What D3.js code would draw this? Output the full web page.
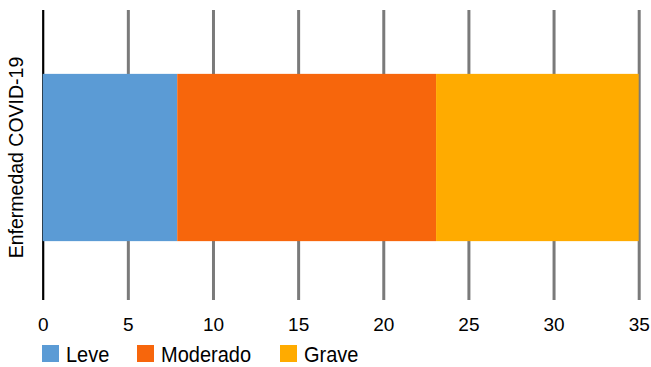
<!DOCTYPE html>
<html>
<head>
<meta charset="utf-8">
<script src="https://cdn.jsdelivr.net/npm/d3@7"></script>
<style>
  html, body { margin: 0; padding: 0; background: #fff; }
  svg { display: block; font-family: "Liberation Sans", Arial, sans-serif; }
</style>
</head>
<body>
<svg id="chart" width="651" height="367"></svg>
<script>
// Severity breakdown of one category, stacked left to right
const categories = ["Enfermedad COVID-19"];
const seriesNames = ["Leve", "Moderado", "Grave"];
const leve = [7.9];
const moderado = [15.2];
const grave = [11.9];
const xTicks = [0, 5, 10, 15, 20, 25, 30, 35];
const colors = ["#5b9bd5", "#f7660c", "#ffab00"];

const svg = d3.select("#chart");
const plot = { left: 42.7, right: 638.7, top: 10, bottom: 300 };

const x = d3.scaleLinear().domain([0, 35]).range([plot.left, plot.right]);
const y = d3.scaleBand().domain(categories).range([plot.top + 2, plot.bottom + 3]).padding(0.27);

const rows = categories.map((c, i) => ({ cat: c, Leve: leve[i], Moderado: moderado[i], Grave: grave[i] }));
const stacked = d3.stack().keys(seriesNames)(rows);

// vertical gridlines with tick labels underneath
const axis = svg.append("g")
  .attr("transform", `translate(0,${plot.bottom})`)
  .call(d3.axisBottom(x).tickValues(xTicks).tickSize(-(plot.bottom - plot.top)).tickPadding(17.5));
axis.select(".domain").remove();
axis.selectAll(".tick line")
  .attr("stroke", d => d === 0 ? "#000" : "#7a7a7a")
  .attr("stroke-width", d => d === 0 ? 2.2 : 3);
axis.selectAll(".tick text")
  .attr("fill", "#000")
  .style("font-size", "19px");

// stacked segments
svg.append("g").selectAll("g")
  .data(stacked)
  .join("g")
  .attr("fill", (d, i) => colors[i])
  .selectAll("rect")
  .data(d => d)
  .join("rect")
  .attr("x", d => x(d[0]))
  .attr("width", d => x(d[1]) - x(d[0]))
  .attr("y", d => y(d.data.cat))
  .attr("height", y.bandwidth());

// category label on the left, rotated
svg.append("text")
  .attr("transform", `translate(23,${y(categories[0]) + y.bandwidth() / 2}) rotate(-90)`)
  .attr("text-anchor", "middle")
  .style("font-size", "19.5px")
  .attr("fill", "#000")
  .text(categories[0]);

// legend
const legendX = [42, 137, 280];
const lg = svg.append("g").selectAll("g")
  .data(seriesNames)
  .join("g")
  .attr("transform", (d, i) => `translate(${legendX[i]},345)`);
lg.append("rect").attr("width", 17).attr("height", 17).attr("fill", (d, i) => colors[i]);
lg.append("text")
  .attr("transform", "translate(24,17) scale(1,1.09)")
  .style("font-size", "20px")
  .attr("fill", "#000")
  .text(d => d);
</script>
</body>
</html>
